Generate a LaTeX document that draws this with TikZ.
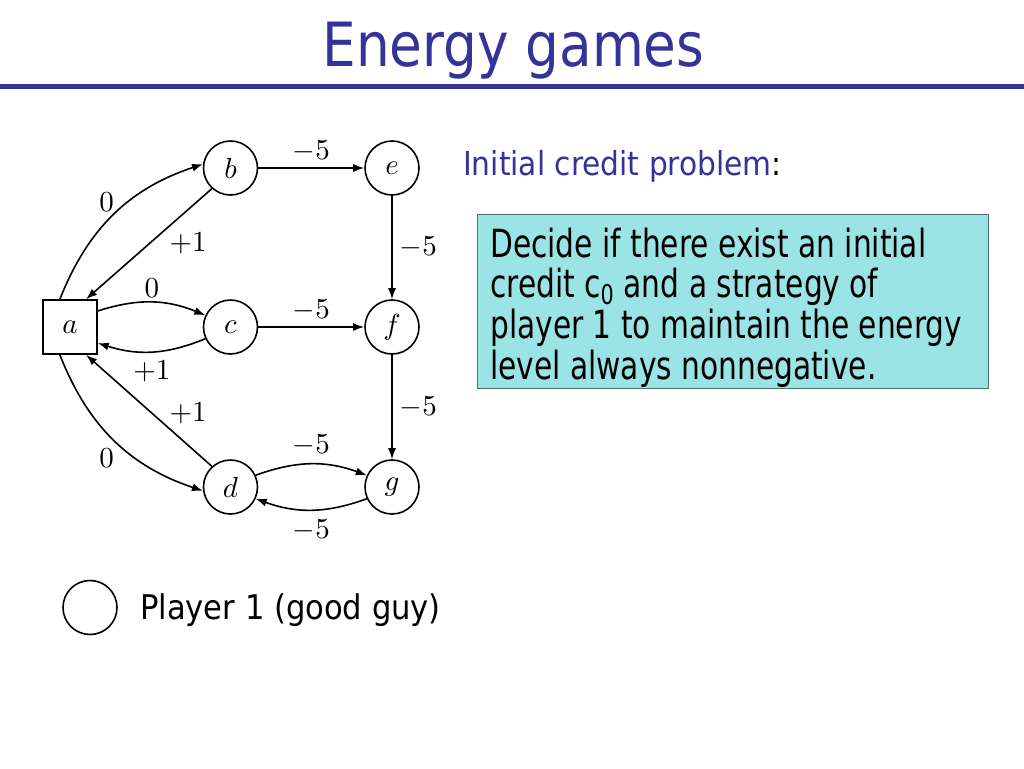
\documentclass[tikz,border=0pt]{standalone}
\usepackage{fontspec}
\DeclareFontShape{OML}{cmm}{m}{it}{<->cmmi10}{\skewchar\font'177}
\DeclareFontShape{OMS}{cmsy}{m}{n}{<->cmsy10}{\skewchar\font'60}
\DeclareFontShape{OT1}{cmr}{m}{n}{<->cmr10}{}
\newfontfamily\tah{DejaVu Sans Condensed}
\newfontfamily\tahbody[FakeStretch=0.85]{DejaVu Sans Condensed}
\newfontfamily\tahtitle[FakeStretch=0.97]{DejaVu Sans Condensed}
\usetikzlibrary{arrows.meta}
\definecolor{titleblue}{HTML}{333399}
\definecolor{boxfill}{HTML}{9AE4E6}
\definecolor{boxline}{HTML}{4F6E6E}
\begin{document}
\begin{tikzpicture}[x=1pt,y=1pt,
  st/.style={circle,draw,line width=1.6pt,minimum size=54pt,inner sep=0pt,font=\fontsize{29}{34}\selectfont},
  sq/.style={rectangle,draw,line width=1.6pt,minimum size=54pt,inner sep=0pt,font=\fontsize{29}{34}\selectfont},
  edg/.style={line width=1.6pt,-{Latex[length=11pt,width=8pt]}},
  lbl/.style={font=\fontsize{29}{34}\selectfont,inner sep=0pt}]
\useasboundingbox (0,0) rectangle (1024,-768);
\fill[white] (0,0) rectangle (1024,-768);
% title
\node[anchor=base, text=titleblue, font=\tahtitle\fontsize{61}{70}\selectfont, inner sep=0pt] (title) at (513.5,-66.7) {Energy games};
\coordinate (rl) at (0,-86.5);
\coordinate (rr) at (1024,-86.5);
\draw[titleblue, line width=5pt] (rl) -- (rr);
% graph nodes
\node[sq] (a) at (70,-327) {$a$};
\node[st] (b) at (230.5,-168) {$b$};
\node[st] (c) at (230.5,-327) {$c$};
\node[st] (d) at (230.5,-487) {$d$};
\node[st] (e) at (392,-168) {$e$};
\node[st] (f) at (392,-327) {$f$};
\node[st] (g) at (392,-487) {$g$};
% edges
\draw[edg] (a.110) to[bend left=25] node[lbl,shift={(-8,12)}]{$0$} (b.172);
\draw[edg] (b.228) -- node[lbl,pos=0.3,shift={(14,-22)}]{$+1$} (a.60);
\draw[edg] (a.30) to[bend left=20] node[lbl,above=4pt]{$0$} (c.155);
\draw[edg] (c.205) to[bend left=20] node[lbl,below=8pt]{$+1$} (a.-30);
\draw[edg] (d.132) -- node[lbl,pos=0.3,shift={(14,20)}]{$+1$} (a.-60);
\draw[edg] (a.-110) to[bend right=25] node[lbl,shift={(-8,-18)}]{$0$} (d.188);
\draw[edg] (b) -- node[lbl,above=5pt]{$-5$} (e);
\draw[edg] (c) -- node[lbl,above=5pt]{$-5$} (f);
\draw[edg] (e) -- node[lbl,right=7pt]{$-5$} (f);
\draw[edg] (f) -- node[lbl,right=7pt]{$-5$} (g);
\draw[edg] (d.25) to[bend left=20] node[lbl,above=7pt]{$-5$} (g.155);
\draw[edg] (g.205) to[bend left=20] node[lbl,below=9pt]{$-5$} (d.-25);
% legend
\node[st] (leg) at (90,-607.5) {};
\node[anchor=base west, font=\tah\fontsize{34}{40}\selectfont, inner sep=0pt] (legtext) at (140,-619) {Player 1 (good guy)};
% right side text
\node[anchor=base west, font=\tah\fontsize{33}{38}\selectfont, text=titleblue, inner sep=0pt] (ic) at (463,-175.7) {Initial credit problem\textcolor{black}{:}};
\node[draw=boxline, fill=boxfill, line width=1pt, minimum width=511pt, minimum height=174pt, anchor=north west, inner sep=0pt] (box) at (477,-214) {};
\node[anchor=north west, align=left, font=\tahbody\fontsize{38.8}{40.7}\selectfont, inner sep=0pt] (boxtext) at (490,-227.5) {Decide if there exist an initial\\credit c\textsubscript{0} and a strategy of\\player 1 to maintain the energy\\level always nonnegative.};
\end{tikzpicture}
\end{document}
